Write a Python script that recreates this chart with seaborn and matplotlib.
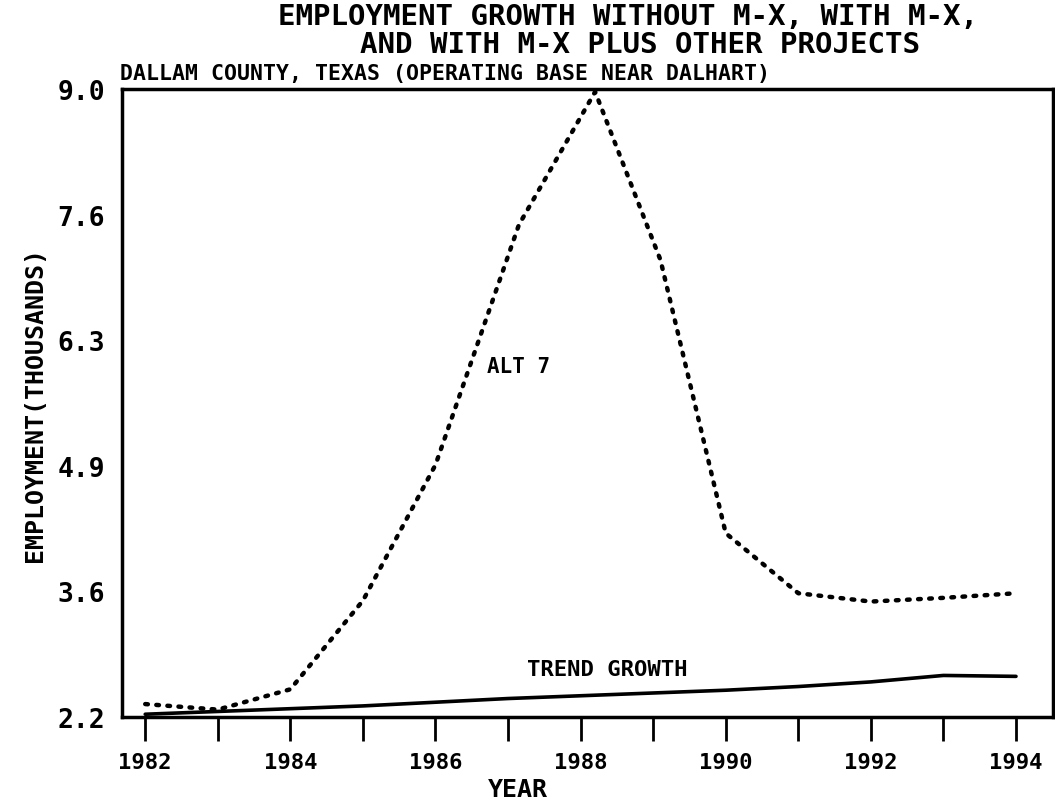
import matplotlib
matplotlib.use("Agg")
import matplotlib.pyplot as plt
import seaborn as sns
import pandas as pd
from matplotlib.ticker import FixedLocator

# ---- data ----
years_alt7 = [1982, 1983, 1984, 1985, 1986, 1987.15, 1988.2, 1989.1, 1990, 1991, 1992, 1993, 1994]
alt7 = [2.34, 2.28, 2.50, 3.46, 4.93, 7.53, 8.97, 7.15, 4.19, 3.54, 3.45, 3.49, 3.54]
years_trend = [1982, 1983, 1984, 1985, 1986, 1987, 1988, 1989, 1990, 1991, 1992, 1993, 1994]
trend = [2.23, 2.26, 2.29, 2.32, 2.36, 2.40, 2.43, 2.46, 2.49, 2.53, 2.58, 2.65, 2.64]
ytick_vals = [2.2, 3.56, 4.92, 6.28, 7.64, 9.0]
ytick_labels = ["2.2", "3.6", "4.9", "6.3", "7.6", "9.0"]
xtick_major = [1982, 1984, 1986, 1988, 1990, 1992, 1994]
xtick_minor = [1983, 1985, 1987, 1989, 1991, 1993]
title1 = "EMPLOYMENT GROWTH WITHOUT M-X, WITH M-X,"
title2 = "AND WITH M-X PLUS OTHER PROJECTS"
subtitle = "DALLAM COUNTY, TEXAS (OPERATING BASE NEAR DALHART)"

df_alt = pd.DataFrame({"year": years_alt7, "emp": alt7})
df_trend = pd.DataFrame({"year": years_trend, "emp": trend})

sns.set_style("white")
plt.rcParams["font.family"] = ["DejaVu Sans Mono", "DejaVu Sans"]
plt.rcParams["font.weight"] = "bold"
plt.rcParams["text.color"] = "black"
plt.rcParams["axes.labelcolor"] = "black"
plt.rcParams["xtick.color"] = "black"
plt.rcParams["ytick.color"] = "black"

fig = plt.figure(figsize=(10.55, 8.03), dpi=100)
W, H = 1055, 803
left, right, top, bottom = 122, 1053, 90, 718
ax = fig.add_axes([left / W, 1 - bottom / H, (right - left) / W, (bottom - top) / H])

sns.lineplot(data=df_alt, x="year", y="emp", ax=ax, color="black", lw=3.2,
             linestyle=(0, (0.6, 1.9)), dash_capstyle="round", sort=False)
sns.lineplot(data=df_trend, x="year", y="emp", ax=ax, color="black", lw=2.6, sort=False)

ax.set_xlim(1981.68, 1994.51)
ax.set_ylim(2.2, 9.0)

for s in ax.spines.values():
    s.set_linewidth(2.5)
    s.set_color("black")

ax.yaxis.set_major_locator(FixedLocator(ytick_vals))
ax.set_yticklabels(ytick_labels)
ax.xaxis.set_major_locator(FixedLocator(xtick_major))
ax.xaxis.set_minor_locator(FixedLocator(xtick_minor))
ax.set_xticklabels([str(y) for y in xtick_major])
ax.tick_params(axis="y", direction="inout", length=14, width=2, labelsize=19, pad=5,
               colors="black")
ax.tick_params(axis="x", which="both", direction="out", length=17, width=2,
               labelsize=16, pad=8, bottom=True, colors="black")
for lab in ax.get_xticklabels() + ax.get_yticklabels():
    lab.set_fontweight("bold")

ax.set_xlabel("")
ax.set_ylabel("EMPLOYMENT(THOUSANDS)", fontsize=18, fontweight="bold", labelpad=8,
              color="black")
fig.text(518 / W, 1 - 790 / H, "YEAR", ha="center", va="center", fontsize=18,
         fontweight="bold", color="black")

fig.text(628 / W, 1 - 17 / H, title1, ha="center", va="center", fontsize=21,
         fontweight="bold", color="black")
fig.text(640 / W, 1 - 45 / H, title2, ha="center", va="center", fontsize=21,
         fontweight="bold", color="black")
fig.text(120 / W, 1 - 74 / H, subtitle, ha="left", va="center", fontsize=15.5,
         fontweight="bold", color="black")

ax.text(1986.71, 6.0, "ALT 7", ha="left", va="center", fontsize=15, fontweight="bold",
        color="black")
ax.text(1987.26, 2.72, "TREND GROWTH", ha="left", va="center", fontsize=16,
        fontweight="bold", color="black")

fig.savefig("out.png", dpi=100)
